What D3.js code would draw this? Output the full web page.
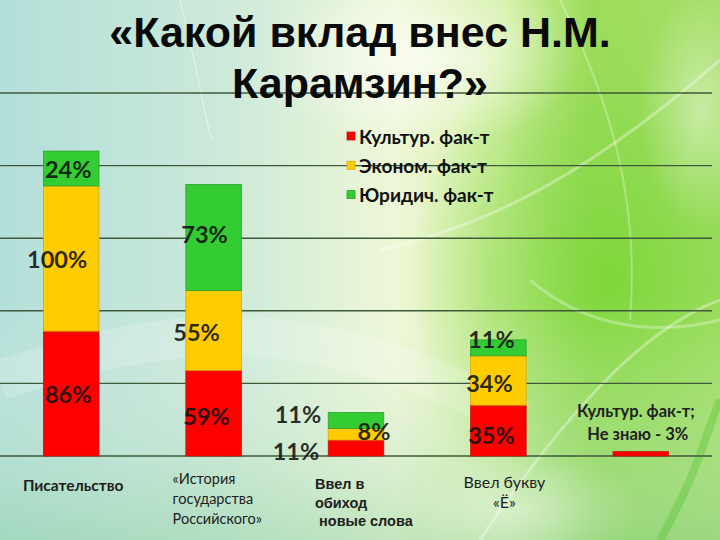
<!DOCTYPE html>
<html><head><meta charset="utf-8">
<script src="https://cdnjs.cloudflare.com/ajax/libs/d3/7.8.5/d3.min.js"></script>
<style>html,body{margin:0;padding:0;overflow:hidden;}svg{display:block;}</style>
</head><body>
<script>
// ---- data ----
const categories = ["Писательство", "«История государства Российского»", "Ввел в обиход новые слова", "Ввел букву «Ё»", "Не знаю"];
const seriesNames = ["Культур. фак-т", "Эконом. фак-т", "Юридич. фак-т"];
const kultur = [86, 59, 11, 35, 3];
const ekonom = [100, 55, 8, 34, 0];
const yurid = [24, 73, 11, 11, 0];
const yTicks = [0, 50, 100, 150, 200, 250];
const title1 = "«Какой вклад внес Н.М.";
const title2 = "Карамзин?»";
const categoryLines = [["Писательство"], ["«История", "государства", "Российского»"], ["Ввел в", "обиход", " новые слова"], ["Ввел букву", "«Ё»"], []];
const note = ["Культур. фак-т;", "Не знаю - 3%"];

const W = 720, H = 540;
const colors = ["#ff0000", "#ffcc00", "#33cc33"];
const strokes = ["#c81010", "#d9a800", "#2ea02e"];

const svg = d3.select("body").append("svg").attr("width", W).attr("height", H);
const defs = svg.append("defs");

// background
const g1 = defs.append("linearGradient").attr("id", "bgH").attr("x1", 0).attr("x2", 1).attr("y1", 0).attr("y2", 0);
[[0, "#b3dfd9"], [0.3, "#cbe9da"], [0.55, "#eef7d6"], [0.7, "#d4f0a6"], [0.82, "#9cdc5a"], [1, "#a6de68"]]
  .forEach(s => g1.append("stop").attr("offset", s[0]).attr("stop-color", s[1]));
const g2 = defs.append("linearGradient").attr("id", "bgV").attr("x1", 0).attr("x2", 0).attr("y1", 0).attr("y2", 1);
[[0, "#ffffff", 0], [0.55, "#ffffff", 0], [1, "#8fd0a0", 0.45]]
  .forEach(s => g2.append("stop").attr("offset", s[0]).attr("stop-color", s[1]).attr("stop-opacity", s[2]));
const g3 = defs.append("radialGradient").attr("id", "glow").attr("cx", 0.5).attr("cy", 0.5).attr("r", 0.5);
[[0, "#7ad636", 0.9], [0.6, "#8ad94c", 0.5], [1, "#9be060", 0]]
  .forEach(s => g3.append("stop").attr("offset", s[0]).attr("stop-color", s[1]).attr("stop-opacity", s[2]));
const g4 = defs.append("radialGradient").attr("id", "light").attr("cx", 0.5).attr("cy", 0.5).attr("r", 0.5);
[[0, "#ffffff", 0.7], [1, "#ffffff", 0]]
  .forEach(s => g4.append("stop").attr("offset", s[0]).attr("stop-color", s[1]).attr("stop-opacity", s[2]));

svg.append("rect").attr("width", W).attr("height", H).attr("fill", "url(#bgH)");
svg.append("ellipse").attr("cx", 610).attr("cy", 280).attr("rx", 200).attr("ry", 280).attr("fill", "url(#glow)");
svg.append("rect").attr("width", W).attr("height", H).attr("fill", "url(#bgV)");
svg.append("ellipse").attr("cx", 420).attr("cy", 60).attr("rx", 160).attr("ry", 90).attr("fill", "url(#light)");
svg.append("ellipse").attr("cx", 700).attr("cy", 110).attr("rx", 60).attr("ry", 120).attr("fill", "url(#light)").attr("opacity", 0.6);
svg.append("ellipse").attr("cx", 520).attr("cy", 510).attr("rx", 120).attr("ry", 60).attr("fill", "url(#light)").attr("opacity", 0.6);
// soft light streaks
const streaks = svg.append("g").attr("fill", "none").attr("stroke", "#ffffff");
streaks.append("path").attr("d", "M0,380 C150,330 300,300 520,420").attr("stroke-width", 40).attr("opacity", 0.18);
streaks.append("path").attr("d", "M380,250 C460,230 560,200 720,60").attr("stroke-width", 3).attr("opacity", 0.35);
streaks.append("path").attr("d", "M530,280 C600,340 680,330 720,320").attr("stroke-width", 3).attr("opacity", 0.3);
streaks.append("path").attr("d", "M560,0 C610,100 640,200 630,320").attr("stroke-width", 2).attr("opacity", 0.3);
streaks.append("path").attr("d", "M480,540 C560,420 640,330 720,300").attr("stroke-width", 3).attr("opacity", 0.35);
streaks.append("path").attr("d", "M180,0 C200,80 205,120 212,140").attr("stroke-width", 1.5).attr("opacity", 0.4);
streaks.append("path").attr("d", "M660,540 C700,470 710,420 720,400").attr("stroke", "#4cc02a").attr("stroke-width", 8).attr("opacity", 0.35);

// scales
const x = d3.scaleBand().domain(categories).range([0, 712]).paddingInner(0.61).paddingOuter(0.305);
const y = d3.scaleLinear().domain([0, 250]).range([456, 93]);

// gridlines
svg.append("g").selectAll("line").data(yTicks).join("line")
  .attr("x1", 0).attr("x2", 712)
  .attr("y1", d => y(d)).attr("y2", d => y(d))
  .attr("stroke", "#3f5a3a").attr("stroke-width", 1.4);

// stacked data
const table = categories.map((c, i) => ({cat: c, k: kultur[i], e: ekonom[i], j: yurid[i]}));
const stack = d3.stack().keys(["k", "e", "j"])(table);

const bars = svg.append("g");
stack.forEach((layer, li) => {
  bars.append("g").selectAll("rect").data(layer.filter(d => d[1] - d[0] > 0)).join("rect")
    .attr("x", d => x(d.data.cat))
    .attr("width", x.bandwidth())
    .attr("y", d => y(d[1]))
    .attr("height", d => y(d[0]) - y(d[1]))
    .attr("fill", colors[li])
    .attr("stroke", strokes[li]).attr("stroke-width", 0.8);
});

// data labels (placement nudges are layout, not data)
const nudge = {
  "0-0": [-3, 0], "0-1": [-14, 0], "0-2": [-3, 0],
  "1-0": [-7, 3], "1-1": [-17, 2], "1-2": [-9, -3],
  "2-0": [-60, 3], "2-1": [18, -3], "2-2": [-58, -6],
  "3-0": [-7, 4], "3-1": [-9, 3], "3-2": [-7, -9]
};
const labels = svg.append("g").attr("font-family", "Lato, 'Open Sans', sans-serif").attr("font-weight", "bold")
  .attr("font-size", 23.5).attr("text-anchor", "middle").attr("dominant-baseline", "central");
stack.forEach((layer, li) => {
  layer.forEach((d, ci) => {
    const v = d[1] - d[0];
    const key = ci + "-" + li;
    if (v <= 0 || !nudge[key]) return;
    const n = nudge[key];
    labels.append("text")
      .attr("x", x(d.data.cat) + x.bandwidth() / 2 + n[0])
      .attr("y", (y(d[0]) + y(d[1])) / 2 + n[1])
      .attr("fill", "#111").attr("fill-opacity", 0.88)
      .text(v + "%");
  });
});

// note over the last bar
const lastCx = x(categories[4]) + x.bandwidth() / 2;
svg.append("g").attr("font-family", "Lato, 'Open Sans', sans-serif").attr("font-weight", "bold")
  .attr("font-size", 16.5).attr("text-anchor", "middle").attr("fill", "#222")
  .selectAll("text").data(note).join("text")
  .attr("x", (d, i) => lastCx - 5 + i * 2)
  .attr("y", (d, i) => y(kultur[4]) + [-41, -18][i])
  .attr("dominant-baseline", "central")
  .text(d => d);

// category labels
const catG = svg.append("g").attr("fill", "#1e1e1e");
categoryLines.forEach((lines, i) => {
  const cx = x(categories[i]) + x.bandwidth() / 2;
  const cfg = [
    {anchor: "middle", dx: 2, y0: 485, dy: 20, font: "Lato", w: "bold", fs: 15.5},
    {anchor: "start", dx: -41, y0: 478, dy: 20, font: "Lato", w: "normal", fs: 14.5},
    {anchor: "start", dx: -41, y0: 484, dy: 18.5, font: "'Liberation Sans', Arial", w: "bold", fs: 14.5},
    {anchor: "middle", dx: 6, y0: 481, dy: 20, font: "Lato", w: "normal", fs: 16},
    {anchor: "middle", dx: 0, y0: 480, dy: 20, font: "Lato", w: "normal", fs: 15}
  ][i];
  lines.forEach((t, j) => {
    catG.append("text")
      .attr("x", cx + cfg.dx).attr("y", cfg.y0 + j * cfg.dy)
      .attr("text-anchor", cfg.anchor).attr("dominant-baseline", "central")
      .attr("font-family", cfg.font).attr("font-weight", cfg.w).attr("font-size", cfg.fs)
      .attr("xml:space", "preserve").style("white-space", "pre")
      .text(t);
  });
});

// legend
const leg = svg.append("g").attr("transform", "translate(347,136)");
seriesNames.forEach((s, i) => {
  const g = leg.append("g").attr("transform", `translate(0,${i * 29.3})`);
  g.append("rect").attr("x", 0).attr("y", -4).attr("width", 8).attr("height", 8)
    .attr("fill", colors[i]).attr("stroke", strokes[i]).attr("stroke-width", 0.8);
  g.append("text").attr("x", 12).attr("y", 0).attr("dominant-baseline", "central")
    .attr("font-family", "Lato, 'Open Sans', sans-serif").attr("font-weight", "bold").attr("font-size", 19)
    .attr("fill", "#111").text(s);
});

// title (one text element, two lines)
const tt = svg.append("text").attr("font-family", "'Liberation Sans', Arial, sans-serif")
  .attr("font-weight", "bold").attr("font-size", 43).attr("fill", "#0a0a0a").attr("text-anchor", "middle");
tt.append("tspan").attr("x", 360).attr("y", 47).text(title1);
tt.append("tspan").attr("x", 360).attr("y", 98).text(title2);
</script>
</body></html>
